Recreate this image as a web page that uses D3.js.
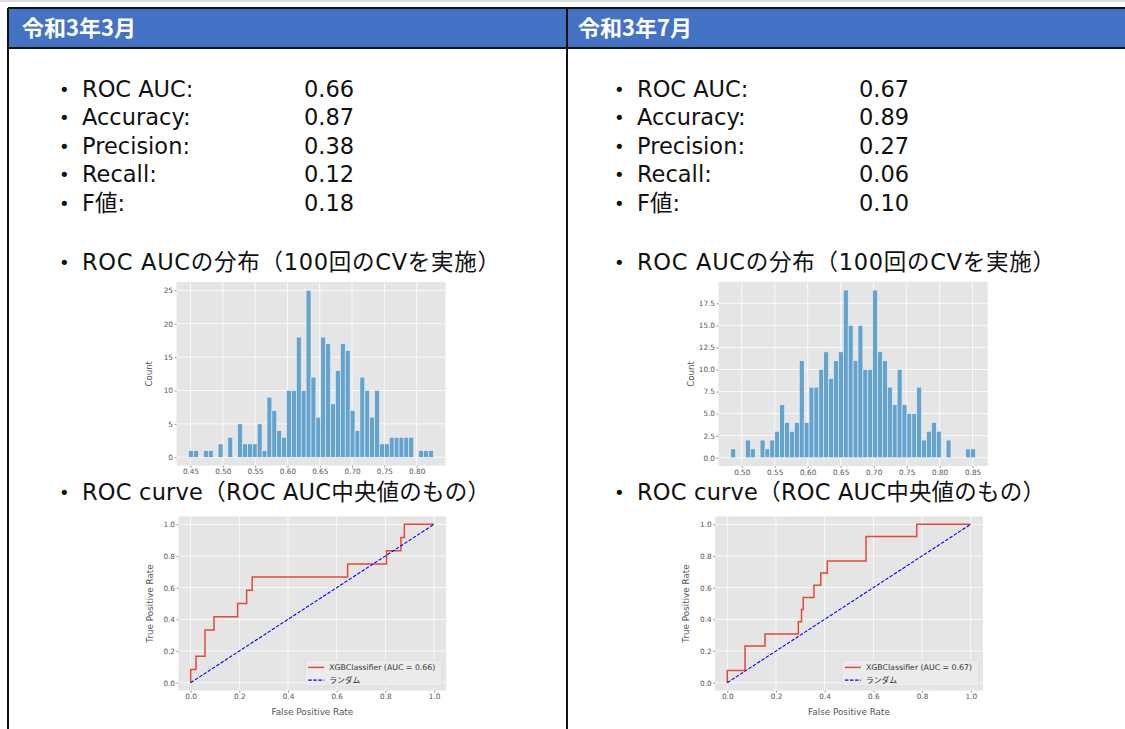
<!DOCTYPE html>
<html>
<head>
<meta charset="utf-8">
<script src="https://cdn.jsdelivr.net/npm/d3@7"></script>
<style>
  body { margin: 0; background: #fff; }
  svg { display: block; }
  .tick text { font-family: "DejaVu Sans", sans-serif; fill: #555; }
</style>
</head>
<body>
<svg id="slide"></svg>
<script>
var width = 1125;
var height = 729;

var headers = ["令和3年3月", "令和3年7月"];
var metricNames = ["ROC AUC:", "Accuracy:", "Precision:", "Recall:", "F値:"];
var metricsMar = ["0.66", "0.87", "0.38", "0.12", "0.18"];
var metricsJul = ["0.67", "0.89", "0.27", "0.06", "0.10"];
var histTitle = "ROC AUCの分布（100回のCVを実施）";
var rocTitle = "ROC curve（ROC AUC中央値のもの）";

// histogram of ROC AUC over 100 CV runs (50 bins)
var binStartMar = 0.4472;
var binWidthMar = 0.00757;
var countsMar = [1, 1, 0, 1, 1, 0, 2, 0, 3, 0,
                 5, 2, 2, 2, 5, 1, 9, 7, 4, 3,
                 10, 10, 18, 10, 25, 12, 6, 18, 17, 8,
                 13, 17, 16, 7, 4, 12, 10, 6, 10, 2,
                 2, 3, 3, 3, 3, 3, 0, 1, 1, 1];
var binStartJul = 0.4833;
var binWidthJul = 0.00742;
var countsJul = [1, 0, 0, 2, 1, 0, 2, 1, 2, 3,
                 6, 4, 3, 4, 11, 4, 8, 8, 10, 12,
                 9, 11, 12, 19, 15, 11, 15, 10, 10, 19,
                 12, 11, 8, 6, 10, 6, 5, 5, 8, 2,
                 3, 4, 3, 0, 2, 0, 0, 0, 1, 1];
var histXTicksMar = [0.45, 0.50, 0.55, 0.60, 0.65, 0.70, 0.75, 0.80];
var histXTicksJul = [0.50, 0.55, 0.60, 0.65, 0.70, 0.75, 0.80, 0.85];
var histYTicksMar = [0, 5, 10, 15, 20, 25];
var histYTicksJul = [0, 2.5, 5, 7.5, 10, 12.5, 15, 17.5];

// ROC curve of the median model
var fprMar = [0, 0, 0.022, 0.022, 0.059, 0.059, 0.096, 0.096, 0.193, 0.193, 0.230, 0.230,
              0.253, 0.253, 0.645, 0.645, 0.805, 0.805, 0.864, 0.864, 0.878, 0.878, 1.0];
var tprMar = [0, 0.083, 0.083, 0.167, 0.167, 0.333, 0.333, 0.417, 0.417, 0.5, 0.5, 0.583,
              0.583, 0.667, 0.667, 0.75, 0.75, 0.833, 0.833, 0.917, 0.917, 1.0, 1.0];
var fprJul = [0, 0, 0.073, 0.073, 0.155, 0.155, 0.292, 0.292, 0.305, 0.305, 0.312, 0.312,
              0.356, 0.356, 0.384, 0.384, 0.411, 0.411, 0.570, 0.570, 0.778, 0.778, 1.0];
var tprJul = [0, 0.077, 0.077, 0.231, 0.231, 0.308, 0.308, 0.385, 0.385, 0.462, 0.462, 0.538,
              0.538, 0.615, 0.615, 0.692, 0.692, 0.769, 0.769, 0.923, 0.923, 1.0, 1.0];
var aucMar = "0.66";
var aucJul = "0.67";
var rocTicks = [0, 0.2, 0.4, 0.6, 0.8, 1.0];

var panels = [
  { header: headers[0], headerX: 22, textLeft: 8, metrics: metricsMar,
    hist: { x: 176.5, y: 282, w: 269, h: 183.6 }, binStart: binStartMar, binWidth: binWidthMar,
    counts: countsMar, xTicks: histXTicksMar, yTicks: histYTicksMar, yFmt: d3.format("d"),
    roc: { x: 178.5, y: 516.4, w: 267.7, h: 174.2 }, fpr: fprMar, tpr: tprMar, auc: aucMar },
  { header: headers[1], headerX: 578, textLeft: 563, metrics: metricsJul,
    hist: { x: 718.5, y: 281.7, w: 269.2, h: 184.4 }, binStart: binStartJul, binWidth: binWidthJul,
    counts: countsJul, xTicks: histXTicksJul, yTicks: histYTicksJul, yFmt: d3.format(".1f"),
    roc: { x: 715.1, y: 516.4, w: 267.8, h: 174.2 }, fpr: fprJul, tpr: tprJul, auc: aucJul }
];

var textFont = '"DejaVu Sans", "Noto Sans CJK JP", sans-serif';
var plotFont = '"DejaVu Sans", "Noto Sans CJK JP", sans-serif';

var svg = d3.select("#slide")
    .attr("width", width)
    .attr("height", height);

svg.append("rect")
  .attr("x", 0).attr("y", 0).attr("width", width).attr("height", 2)
  .attr("fill", "#dcdcdc");

// header row
svg.append("rect")
  .attr("x", 8).attr("y", 8).attr("width", width).attr("height", 40)
  .attr("fill", "#4472C4");

var lines = [
  [8, 8, width, 8],
  [8, 48, width, 48],
  [8, 8, 8, height],
  [567, 8, 567, height]
];
svg.selectAll("line.border")
  .data(lines)
  .enter().append("line")
  .attr("class", "border")
  .attr("x1", function(d) { return d[0]; })
  .attr("y1", function(d) { return d[1]; })
  .attr("x2", function(d) { return d[2]; })
  .attr("y2", function(d) { return d[3]; })
  .attr("stroke", "#111")
  .attr("stroke-width", 2);

function styleAxis(a) {
  a.select(".domain").remove();
  a.selectAll(".tick line").attr("stroke", "#555").attr("stroke-width", 0.6);
  a.selectAll(".tick text").style("font-size", "7.3px");
}

function drawHist(p) {
  var r = p.hist;
  var n = p.counts.length;
  var bins = p.counts.map(function(c, i) {
    return { x0: p.binStart + i * p.binWidth, x1: p.binStart + (i + 1) * p.binWidth, c: c };
  });
  var lo = bins[0].x0, hi = bins[n - 1].x1;
  var pad = (hi - lo) * 0.05;
  var maxC = d3.max(p.counts);

  var x = d3.scaleLinear().domain([lo - pad, hi + pad]).range([r.x, r.x + r.w]);
  var y = d3.scaleLinear().domain([-0.05 * maxC, 1.05 * maxC]).range([r.y + r.h, r.y]);

  var g = svg.append("g");
  g.append("rect")
    .attr("x", r.x).attr("y", r.y).attr("width", r.w).attr("height", r.h)
    .attr("fill", "#E5E5E5");

  g.selectAll("line.vgrid").data(p.xTicks).enter().append("line")
    .attr("x1", function(d) { return x(d); }).attr("x2", function(d) { return x(d); })
    .attr("y1", r.y).attr("y2", r.y + r.h)
    .attr("stroke", "#fff").attr("stroke-width", 0.8);
  g.selectAll("line.hgrid").data(p.yTicks).enter().append("line")
    .attr("y1", function(d) { return y(d); }).attr("y2", function(d) { return y(d); })
    .attr("x1", r.x).attr("x2", r.x + r.w)
    .attr("stroke", "#fff").attr("stroke-width", 0.8);

  g.selectAll("rect.bar")
    .data(bins.filter(function(d) { return d.c > 0; }))
    .enter().append("rect")
    .attr("class", "bar")
    .attr("x", function(d) { return x(d.x0); })
    .attr("width", function(d) { return x(d.x1) - x(d.x0); })
    .attr("y", function(d) { return y(d.c); })
    .attr("height", function(d) { return y(0) - y(d.c); })
    .attr("fill", "#63a3cd")
    .attr("stroke", "#eef2f6")
    .attr("stroke-width", 0.6);

  var xAxis = g.append("g")
    .attr("transform", "translate(0," + (r.y + r.h) + ")")
    .call(d3.axisBottom(x).tickValues(p.xTicks).tickFormat(d3.format(".2f")).tickSize(2).tickPadding(1.5));
  var yAxis = g.append("g")
    .attr("transform", "translate(" + r.x + ",0)")
    .call(d3.axisLeft(y).tickValues(p.yTicks).tickFormat(p.yFmt).tickSize(2).tickPadding(1.5));
  styleAxis(xAxis);
  styleAxis(yAxis);

  g.append("text")
    .attr("transform", "translate(" + (r.x - 25) + "," + (r.y + r.h / 2) + ") rotate(-90)")
    .attr("text-anchor", "middle")
    .style("font-family", plotFont)
    .style("font-size", "8.6px")
    .attr("fill", "#555")
    .text("Count");
}

function drawRoc(p) {
  var r = p.roc;
  var x = d3.scaleLinear().domain([-0.05, 1.05]).range([r.x, r.x + r.w]);
  var y = d3.scaleLinear().domain([-0.05, 1.05]).range([r.y + r.h, r.y]);

  var g = svg.append("g");
  g.append("rect")
    .attr("x", r.x).attr("y", r.y).attr("width", r.w).attr("height", r.h)
    .attr("fill", "#E5E5E5");
  g.selectAll("line.vgrid").data(rocTicks).enter().append("line")
    .attr("x1", function(d) { return x(d); }).attr("x2", function(d) { return x(d); })
    .attr("y1", r.y).attr("y2", r.y + r.h)
    .attr("stroke", "#fff").attr("stroke-width", 0.8);
  g.selectAll("line.hgrid").data(rocTicks).enter().append("line")
    .attr("y1", function(d) { return y(d); }).attr("y2", function(d) { return y(d); })
    .attr("x1", r.x).attr("x2", r.x + r.w)
    .attr("stroke", "#fff").attr("stroke-width", 0.8);

  var pts = p.fpr.map(function(f, i) { return [f, p.tpr[i]]; });
  var line = d3.line()
    .x(function(d) { return x(d[0]); })
    .y(function(d) { return y(d[1]); });

  g.append("path")
    .attr("d", line(pts))
    .attr("fill", "none")
    .attr("stroke", "#E24A33")
    .attr("stroke-width", 1.5);

  g.append("path")
    .attr("d", line([[0, 0], [1, 1]]))
    .attr("fill", "none")
    .attr("stroke", "#0000FF")
    .attr("stroke-width", 1.1)
    .attr("stroke-dasharray", "3.5,1.6");

  var xAxis = g.append("g")
    .attr("transform", "translate(0," + (r.y + r.h) + ")")
    .call(d3.axisBottom(x).tickValues(rocTicks).tickFormat(d3.format(".1f")).tickSize(2).tickPadding(1.5));
  var yAxis = g.append("g")
    .attr("transform", "translate(" + r.x + ",0)")
    .call(d3.axisLeft(y).tickValues(rocTicks).tickFormat(d3.format(".1f")).tickSize(2).tickPadding(1.5));
  styleAxis(xAxis);
  styleAxis(yAxis);

  g.append("text")
    .attr("x", r.x + r.w / 2)
    .attr("y", r.y + r.h + 24.5)
    .attr("text-anchor", "middle")
    .style("font-family", plotFont)
    .style("font-size", "8.8px")
    .attr("fill", "#555")
    .text("False Positive Rate");
  g.append("text")
    .attr("transform", "translate(" + (r.x - 26) + "," + (r.y + r.h / 2) + ") rotate(-90)")
    .attr("text-anchor", "middle")
    .style("font-family", plotFont)
    .style("font-size", "8.8px")
    .attr("fill", "#555")
    .text("True Positive Rate");

  // legend, lower right
  var lw = 137, lh = 26;
  var lx = r.x + r.w - 4 - lw;
  var ly = r.y + r.h - 4.5 - lh;
  var leg = g.append("g").attr("transform", "translate(" + lx + "," + ly + ")");
  leg.append("rect")
    .attr("width", lw).attr("height", lh).attr("rx", 1.5)
    .attr("fill", "#ebebeb").attr("stroke", "#d6d6d6").attr("stroke-width", 0.6);
  var items = [
    { label: "XGBClassifier (AUC = " + p.auc + ")", color: "#E24A33", dash: null, w: 1.5 },
    { label: "ランダム", color: "#0000FF", dash: "3.5,1.6", w: 1.1 }
  ];
  items.forEach(function(it, i) {
    var yy = 7.3 + i * 12.7;
    leg.append("line")
      .attr("x1", 3).attr("x2", 19).attr("y1", yy).attr("y2", yy)
      .attr("stroke", it.color).attr("stroke-width", it.w)
      .attr("stroke-dasharray", it.dash);
    leg.append("text")
      .attr("x", 24).attr("y", yy + 2.7)
      .style("font-family", plotFont)
      .style("font-size", "7.8px")
      .attr("fill", "#333")
      .text(it.label);
  });
}

panels.forEach(function(p) {
  // header text
  svg.append("text")
    .attr("x", p.headerX)
    .attr("y", 36)
    .style("font-family", '"Noto Sans CJK JP", sans-serif')
    .style("font-weight", "bold")
    .style("font-size", "22px")
    .attr("fill", "#fff")
    .text(p.header);

  var L = p.textLeft;
  var tx = L + 74;
  var body = svg.append("g");
  var rows = metricNames.map(function(name, i) { return { name: name, value: p.metrics[i] }; });
  var rowG = body.selectAll("g.row").data(rows).enter().append("g")
    .attr("transform", function(d, i) { return "translate(0," + (96.6 + i * 28.6) + ")"; });
  rowG.append("text")
    .attr("x", L + 51).attr("y", -1)
    .style("font-family", textFont).style("font-size", "18px").attr("fill", "#111")
    .text("•");
  rowG.append("text")
    .attr("x", tx).attr("y", 0)
    .style("font-family", textFont).style("font-size", "22.5px").attr("fill", "#111")
    .text(function(d) { return d.name; });
  rowG.append("text")
    .attr("x", L + 296).attr("y", 0)
    .style("font-family", textFont).style("font-size", "22.5px").attr("fill", "#111")
    .text(function(d) { return d.value; });

  [[histTitle, 270, 418], [rocTitle, 500, 408]].forEach(function(t) {
    body.append("text")
      .attr("x", L + 51).attr("y", t[1] - 1)
      .style("font-family", textFont).style("font-size", "18px").attr("fill", "#111")
      .text("•");
    body.append("text")
      .attr("x", tx).attr("y", t[1])
      .attr("textLength", t[2])
      .attr("lengthAdjust", "spacing")
      .style("font-family", textFont).style("font-size", "22.5px").attr("fill", "#111")
      .text(t[0]);
  });

  drawHist(p);
  drawRoc(p);
});
</script>
</body>
</html>
